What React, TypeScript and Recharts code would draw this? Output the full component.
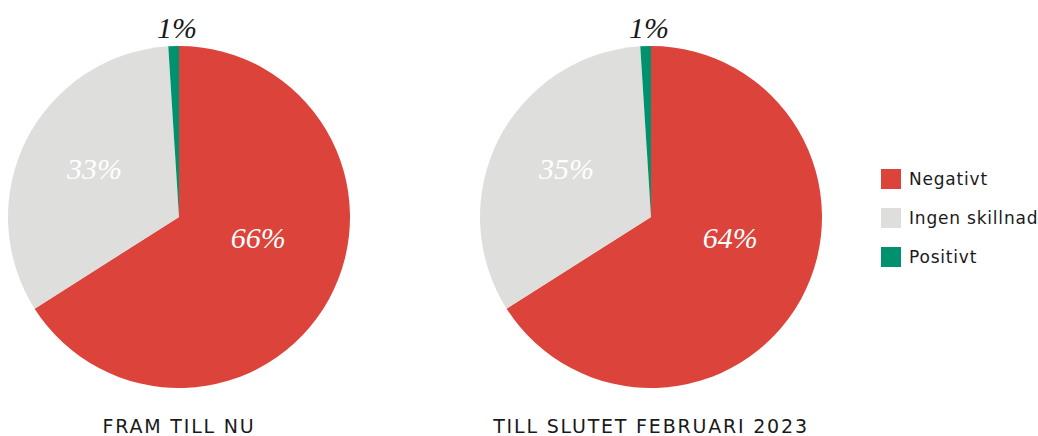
import React from 'react';
import { PieChart, Pie, Cell, Legend } from 'recharts';

const categories = ['Negativt', 'Ingen skillnad', 'Positivt'];
// percentages printed on each pie
const framTillNuLabels = [66, 33, 1];
const tillFebruariLabels = [64, 35, 1];
// slice sizes as drawn in the source (both pies are drawn with the same shares)
const framTillNuShares = [66, 33, 1];
const tillFebruariShares = [66, 33, 1];
const titles = ['FRAM TILL NU', 'TILL SLUTET FEBRUARI 2023'];

const COLORS = ['#dc433a', '#dededc', '#00916e'];
const RADIAN = Math.PI / 180;
// where the percent label sits, as a fraction of the radius, plus an angle nudge
const LABEL_RADIUS = [0.48, 0.57, 1.11];
const LABEL_SHIFT = [14, -3, -1.2];

const toRows = (shares: number[], labels: number[]) =>
  categories.map((name, i) => ({ name, value: shares[i], label: labels[i] }));

const renderLabel = (props: any) => {
  const { cx, cy, midAngle, outerRadius, index, payload } = props;
  const r = outerRadius * LABEL_RADIUS[index];
  const a = (midAngle + LABEL_SHIFT[index]) * RADIAN;
  const x = cx + r * Math.cos(-a);
  const y = cy + r * Math.sin(-a);
  const label = payload?.label ?? props.label;
  return (
    <text
      x={x}
      y={y}
      textAnchor="middle"
      dominantBaseline="central"
      fill={index === 2 ? '#1a1a1a' : '#ffffff'}
      style={{ fontFamily: '"Liberation Serif", serif', fontStyle: 'italic', fontSize: 30 }}
    >
      {`${label}%`}
    </text>
  );
};

const renderLegend = () => (
  <div style={{ fontFamily: '"DejaVu Sans", sans-serif', fontSize: 17, letterSpacing: 0.8, color: '#1a1a1a', whiteSpace: 'nowrap' }}>
    {categories.map((c, i) => (
      <div key={c} style={{ display: 'flex', alignItems: 'center', height: 39 }}>
        <span style={{ width: 20, height: 20, flex: '0 0 20px', background: COLORS[i], marginRight: 8, display: 'inline-block' }} />
        <span>{c}</span>
      </div>
    ))}
  </div>
);

export default function App() {
  return (
    <div style={{ position: 'absolute', left: 0, top: 0, width: 1038, height: 436, background: '#fff' }}>
      <PieChart width={1038} height={436} margin={{ top: 0, right: 0, bottom: 0, left: 0 }}>
        <Pie
          data={toRows(framTillNuShares, framTillNuLabels)}
          dataKey="value"
          cx={179}
          cy={217}
          outerRadius={171}
          startAngle={90}
          endAngle={-270}
          stroke="none"
          labelLine={false}
          label={renderLabel}
          isAnimationActive={false}
        >
          {framTillNuShares.map((_, i) => <Cell key={i} fill={COLORS[i]} />)}
        </Pie>
        <Pie
          data={toRows(tillFebruariShares, tillFebruariLabels)}
          dataKey="value"
          cx={651}
          cy={217}
          outerRadius={171}
          startAngle={90}
          endAngle={-270}
          stroke="none"
          labelLine={false}
          label={renderLabel}
          isAnimationActive={false}
        >
          {tillFebruariShares.map((_, i) => <Cell key={i} fill={COLORS[i]} />)}
        </Pie>
        <Legend
          layout="vertical"
          align="right"
          verticalAlign="middle"
          content={renderLegend}
          wrapperStyle={{ left: 881, top: 159, width: 157 }}
        />
      </PieChart>
      {titles.map((t, i) => (
        <div
          key={t}
          style={{
            position: 'absolute',
            top: 414,
            left: i === 0 ? 179 - 200 : 651 - 200,
            width: 400,
            textAlign: 'center',
            fontFamily: '"DejaVu Sans", sans-serif',
            fontSize: 19,
            letterSpacing: 1.8,
            color: '#1a1a1a',
            lineHeight: '24px',
          }}
        >
          {t}
        </div>
      ))}
    </div>
  );
}
